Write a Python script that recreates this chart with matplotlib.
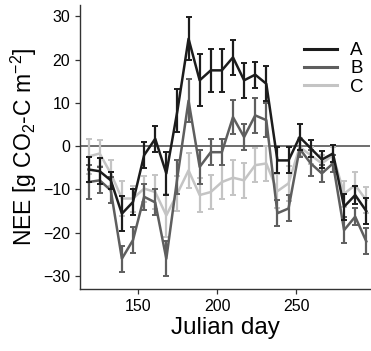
import matplotlib
matplotlib.use("Agg")
import matplotlib.pyplot as plt
import numpy as np
from matplotlib.lines import Line2D

plt.rcParams['font.family'] = ['Liberation Sans', 'DejaVu Sans']
plt.rcParams['mathtext.fontset'] = 'custom'
plt.rcParams['mathtext.rm'] = 'Liberation Sans'
plt.rcParams['mathtext.default'] = 'regular'

days = [119, 126, 133, 140, 147, 154, 161, 168, 175, 182, 189, 196, 203,
        210, 217, 224, 231, 238, 245, 252, 259, 266, 273, 280, 287, 294]

a_mean = [-5.4, -5.8, -7.9, -15.6, -12.9, -2.1, 1.7, -6.3, 8.2, 24.8, 15.2, 17.5, 17.5,
          20.5, 15.2, 16.5, 14.4, -3.3, -3.3, 2.1, -0.5, -3.1, -1.7, -14.0, -11.3, -15.0]
a_err = [3, 3, 2, 4, 3, 3, 3, 5, 5, 5, 6, 5, 5,
         4, 4, 3, 4, 3, 3, 3, 2, 2, 2, 3, 2, 3]

b_mean = [-8.3, -7.9, -10.2, -26.0, -21.7, -11.7, -13.0, -26.0, -7.1, 10.5, -4.8, -1.4, -1.4,
          6.7, 2.1, 7.1, 6.0, -15.5, -14.4, -0.6, -4.0, -6.3, -4.0, -19.4, -16.3, -22.0]
b_err = [4, 3, 3, 3, 3, 3, 3, 4, 4, 5, 4, 3, 3,
         4, 3, 4, 4, 3, 3, 2, 3, 2, 2, 3, 2, 3]

c_mean = [-2.4, -1.7, -6.3, -12.1, -12.1, -9.8, -10.6, -16.0, -10.9, -5.6, -11.3, -10.6, -8.3,
          -7.3, -7.9, -4.4, -4.0, -10.4, -8.6, -0.2, -2.1, -4.0, -2.1, -11.0, -9.0, -12.5]
c_err = [4, 3, 3, 4, 3, 3, 4, 5, 4, 4, 4, 4, 4,
         4, 4, 4, 4, 4, 4, 2, 2, 2, 2, 3, 3, 3]

labels = ['A', 'B', 'C']
colors = ['#1c1c1c', '#5e5e5e', '#c4c4c4']

fig = plt.figure(figsize=(3.71, 3.51), dpi=100)
ax = fig.add_axes([0.2156, 0.1766, 0.782, 0.808])

ax.axhline(0, color='#555555', lw=1.2, zorder=1)

for mean, err, col, lab, z in [(c_mean, c_err, colors[2], 'C', 2),
                                (b_mean, b_err, colors[1], 'B', 3),
                                (a_mean, a_err, colors[0], 'A', 4)]:
    ax.errorbar(days, mean, yerr=err, color=col, lw=1.8, elinewidth=1.6,
                capsize=2.5, capthick=1.4, label=lab, zorder=z)

ax.set_xlim(113.6, 296.4)
ax.set_ylim(-33.0, 32.5)
ax.set_xticks([150, 200, 250])
ax.set_yticks([-30, -20, -10, 0, 10, 20, 30])
for s in ['top', 'right']:
    ax.spines[s].set_visible(False)
for s in ['left', 'bottom']:
    ax.spines[s].set_linewidth(1.0)
    ax.spines[s].set_color('#333333')
ax.tick_params(direction='out', length=3.5, width=0.9, labelsize=11.5, color='#333333')

ax.set_xlabel('Julian day', fontsize=17.5, labelpad=2)
ax.set_ylabel(r'NEE [g CO$_2$-C m$^{-2}$]', fontsize=16.5, labelpad=3)

handles = [Line2D([], [], color=colors[i], lw=2.2) for i in range(3)]
ax.legend(handles, labels, loc='upper left', bbox_to_anchor=(0.772, 0.87),
          frameon=False, fontsize=13.5, handlelength=1.76, handletextpad=0.7,
          labelspacing=0.05, borderaxespad=0, borderpad=0)

fig.savefig('out.png', dpi=100)
